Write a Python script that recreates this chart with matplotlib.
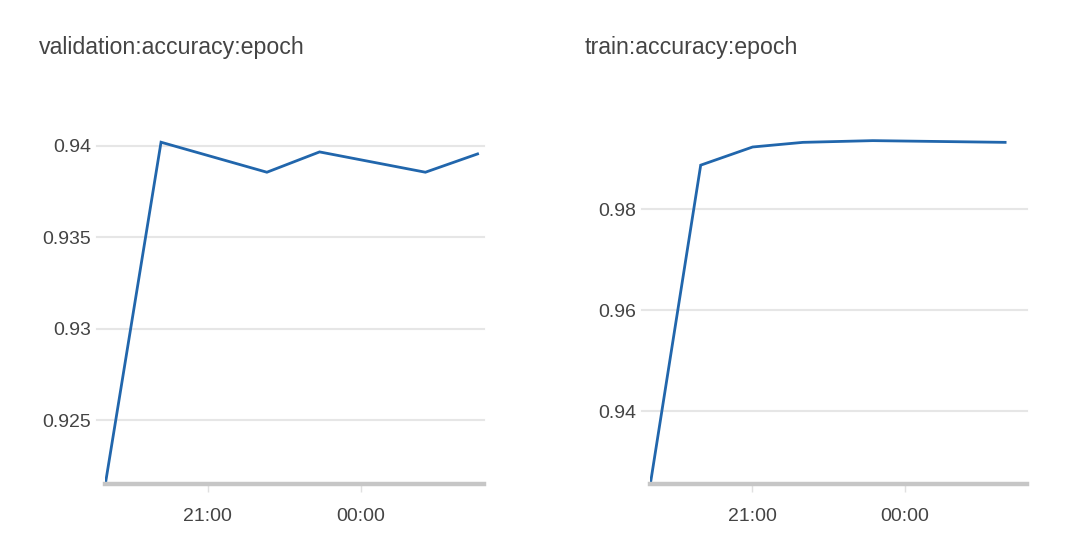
from datetime import datetime, timedelta

import matplotlib
matplotlib.use("Agg")
import matplotlib.pyplot as plt
import matplotlib.dates as mdates

plt.rcParams["font.family"] = ["Liberation Sans", "DejaVu Sans"]

START = datetime(2018, 1, 1, 19, 0)

# hours after start
val_hours = [0.0, 1.09, 3.16, 4.19, 6.26, 7.28]
val_acc = [0.9215, 0.94019, 0.93855, 0.93966, 0.93855, 0.93955]
val_yticks = [0.925, 0.93, 0.935, 0.94]
val_ylabels = ["0.925", "0.93", "0.935", "0.94"]

train_hours = [0.0, 0.99, 2.01, 3.0, 4.37, 6.97]
train_acc = [0.92553, 0.98877, 0.99237, 0.99329, 0.99363, 0.99329]
train_yticks = [0.94, 0.96, 0.98]
train_ylabels = ["0.94", "0.96", "0.98"]

panels = [
    ("validation:accuracy:epoch", val_hours, val_acc, val_yticks, val_ylabels, (0.9215, 0.94195)),
    ("train:accuracy:epoch", train_hours, train_acc, train_yticks, train_ylabels, (0.92553, 0.9997)),
]

W, H = 1083, 559
fig = plt.figure(figsize=(W / 100, H / 100), dpi=100)

boxes = [(105.3, 378.4), (650.3, 376.7)]
bottom_px, top_px = 484.3, 110.0
title_x = [39, 585]
text_col = "#444444"
line_col = "#2166ac"

for (title, hrs, acc, yt, yl, ylim), (x0, w), tx in zip(panels, boxes, title_x):
    ax = fig.add_axes([x0 / W, 1 - bottom_px / H, w / W, (bottom_px - top_px) / H])
    times = [START + timedelta(hours=h) for h in hrs]
    ax.plot(times, acc, color=line_col, lw=2.0, solid_joinstyle="miter", zorder=3)

    ax.set_xlim(START, START + timedelta(hours=7.4))
    ax.set_ylim(*ylim)
    ax.xaxis.set_major_locator(mdates.HourLocator(byhour=[0, 21]))
    ax.xaxis.set_major_formatter(mdates.DateFormatter("%H:%M"))
    ax.set_yticks(yt)
    ax.set_yticklabels(yl)

    for v in yt:
        ax.axhline(v, xmin=-0.022, xmax=1, color="#e6e6e6", lw=1.5, clip_on=False, zorder=1)

    for s in ["top", "right", "left"]:
        ax.spines[s].set_visible(False)
    ax.spines["bottom"].set_color("#c6c6c6")
    ax.spines["bottom"].set_linewidth(3.2)
    ax.spines["bottom"].set_zorder(4)

    ax.tick_params(axis="y", length=0, pad=10, labelsize=14, labelcolor=text_col)
    ax.tick_params(axis="x", length=6, width=1, color="#e0e0e0", pad=11,
                   labelsize=14, labelcolor=text_col)

    fig.text(tx / W, 1 - 54 / H, title, fontsize=16.7, color=text_col,
             ha="left", va="baseline")

fig.savefig("out.png", dpi=100)
